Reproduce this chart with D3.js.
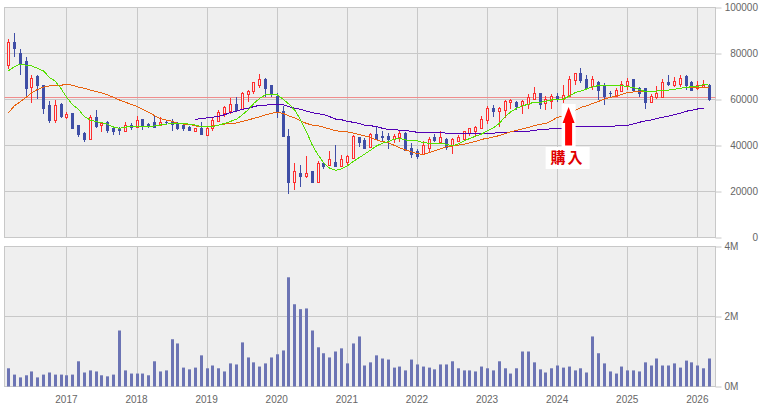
<!DOCTYPE html>
<html>
<head>
<meta charset="utf-8">
<script src="https://d3js.org/d3.v7.min.js"></script>
<style>
  html, body { margin: 0; padding: 0; background: #fff; }
  svg { display: block; }
  text { font-family: "Liberation Sans", sans-serif; font-size: 10px; fill: #666; }
</style>
</head>
<body>
<script>
  // monthly candles, March 2016 to March 2026, prices in thousands
  const opens = [74.7,84.7,80.2,76.7,65.1,69.8,65.9,57.2,50.9,58.0,
    52.0,53.8,48.5,45.4,42.7,52.0,48.5,50.1,47.5,46.9,
    46.0,48.8,47.8,51.1,49.1,49.8,48.8,50.2,50.5,49.6,
    48.5,48.0,46.3,47.6,44.3,47.3,50.5,54.0,55.0,58.0,
    55.7,62.0,63.4,66.0,68.9,65.9,61.5,54.6,43.7,23.8,
    28.0,26.7,28.5,23.8,32.0,31.2,32.8,30.8,32.5,34.3,
    43.3,42.0,39.1,44.6,43.7,43.7,42.4,43.3,45.4,38.9,
    37.6,36.3,38.6,43.3,41.5,42.8,39.8,41.6,42.4,45.4,
    46.3,47.3,50.8,55.9,54.6,55.1,58.6,58.9,57.3,58.0,
    60.2,62.4,58.3,59.2,61.5,60.1,61.5,68.2,71.5,68.9,
    65.6,67.6,65.9,62.8,61.5,63.4,65.9,68.5,64.6,64.6,
    58.6,60.7,61.0,67.2,66.3,66.7,69.8,67.6,64.6,65.4,66.3];
  const closes = [84.9,82.0,75.7,64.7,69.2,65.9,56.0,50.8,57.5,52.4,
    53.5,47.6,44.7,42.4,52.2,48.2,49.6,46.4,45.9,46.4,
    48.5,47.8,50.9,48.5,48.6,48.0,50.1,49.8,49.1,47.6,
    47.2,46.4,47.3,44.7,47.5,50.9,54.3,56.6,57.9,55.4,
    62.7,63.5,67.2,68.8,64.9,62.0,54.6,43.8,23.8,28.5,
    26.7,28.0,23.8,32.0,30.7,33.7,30.7,33.7,35.4,43.7,
    41.5,38.9,44.9,42.4,43.3,42.4,44.1,45.4,38.0,35.9,
    35.4,39.8,42.8,42.0,43.3,39.3,42.4,43.3,45.9,47.2,
    48.0,51.5,55.9,54.6,56.3,59.2,59.6,56.9,59.3,60.9,
    62.4,58.0,60.1,61.5,60.1,61.8,68.5,71.1,68.2,64.6,
    68.5,64.1,61.5,62.4,64.1,66.7,68.0,63.7,62.4,58.5,
    61.5,62.4,67.6,66.7,68.0,69.3,66.3,64.1,65.9,66.3,60.2];
  const highs = [86.3,89.1,81.8,78.5,70.7,70.5,66.3,59.3,59.8,58.5,
    54.6,54.1,48.8,45.9,53.3,55.4,50.1,50.5,48.0,48.2,
    50.2,49.8,52.7,51.4,49.8,53.0,52.2,51.1,51.5,50.2,
    49.6,48.5,47.6,50.2,48.2,52.0,55.4,57.3,60.7,61.1,
    63.1,64.3,67.6,71.1,69.3,66.3,62.8,57.2,47.2,32.4,
    31.5,35.4,28.9,33.3,32.4,37.6,40.2,35.9,35.9,44.6,
    43.7,43.3,45.3,48.0,46.3,45.4,44.9,46.7,45.9,41.1,
    38.5,42.0,43.7,45.0,46.3,43.1,43.3,44.6,46.3,47.6,
    48.5,52.8,57.2,57.6,56.7,59.8,60.1,59.3,59.8,62.4,
    65.4,62.8,61.5,62.4,62.8,66.2,70.2,71.7,73.7,70.7,
    70.2,68.0,67.0,63.7,65.0,68.0,69.3,68.9,65.4,65.0,
    62.4,65.9,68.9,70.7,69.8,70.7,70.7,68.0,68.0,68.5,66.7];
  const lows = [73.3,78.6,70.8,60.9,58.6,60.4,53.7,49.9,49.9,52.0,
    51.4,47.2,43.8,41.5,42.5,47.6,45.9,45.6,44.7,44.7,
    46.0,46.9,47.6,46.9,47.8,47.5,48.5,49.2,46.3,46.7,
    46.4,46.3,46.0,44.6,44.1,46.4,50.4,52.4,53.7,55.4,
    55.7,59.1,62.5,65.0,61.2,61.2,52.1,43.7,19.1,20.6,
    22.0,25.9,23.7,23.7,29.8,31.1,30.7,30.7,31.5,34.1,
    39.3,38.9,38.9,42.4,42.0,38.5,40.9,41.7,37.6,34.6,
    34.1,35.9,36.7,41.5,41.1,38.0,36.3,41.5,42.0,44.1,
    44.1,47.2,49.3,52.4,48.0,51.8,56.0,55.4,53.7,55.9,
    59.8,55.9,55.4,55.9,58.9,58.3,61.2,66.3,67.0,64.1,
    64.1,59.8,57.6,60.9,60.9,63.3,64.1,63.3,61.1,55.9,
    58.5,60.2,60.7,65.9,65.4,65.4,64.1,63.7,64.1,65.0,59.3];

  const maShort = [72.5,74.3,75.3,74.9,74.6,73.5,72.4,69.6,68.0,64.7,
    60.8,57.6,55.7,52.5,51.1,50.4,49.9,49.2,48.0,47.5,
    48.0,48.2,48.2,48.2,48.2,48.5,48.9,49.3,49.5,49.5,
    49.5,49.3,48.9,48.2,48.2,48.3,48.9,49.6,50.5,51.4,
    53.3,55.4,58.3,60.5,62.0,62.3,62.0,60.1,58.0,55.4,
    51.1,46.0,40.2,35.9,32.3,30.1,29.2,29.8,31.1,33.0,
    34.7,36.3,38.0,39.8,41.0,41.7,42.7,43.0,42.4,42.2,
    42.0,41.2,41.0,41.0,41.0,40.5,39.8,40.7,42.0,43.1,
    44.1,45.0,46.4,47.7,49.6,52.5,54.7,56.2,57.2,58.0,
    58.9,58.8,59.2,59.8,60.1,60.2,61.5,63.0,63.7,64.6,
    65.6,66.0,66.2,66.2,66.2,66.0,65.6,65.2,64.4,63.4,
    63.4,63.7,64.1,64.1,64.4,64.9,65.2,65.6,65.6,66.6,66.2];
  const maMid = [54.3,57.2,59.0,60.9,63.0,64.4,65.4,65.9,66.2,66.2,
    66.6,66.2,65.3,64.9,64.1,63.5,62.8,62.0,60.9,59.8,
    58.8,57.9,57.0,55.7,54.4,53.0,51.7,51.1,50.5,49.6,
    49.3,49.2,48.5,48.2,48.3,48.5,48.9,49.3,49.6,49.8,
    50.5,51.1,51.8,52.5,53.3,54.0,54.4,54.0,52.8,52.1,
    50.7,49.6,48.9,48.6,47.9,47.2,46.4,46.2,45.9,45.4,
    44.8,44.1,43.5,42.4,41.7,41.2,40.1,39.0,38.0,37.2,
    36.5,36.0,36.9,37.7,38.6,39.5,39.8,40.2,40.5,41.2,
    41.8,42.7,43.1,43.7,44.3,45.1,46.0,46.6,47.2,47.9,
    48.6,49.2,49.6,50.8,52.3,52.8,53.7,55.2,56.6,57.3,
    58.3,59.2,60.1,60.9,61.5,62.2,63.0,63.3,63.4,63.4,
    63.4,63.7,64.0,64.1,64.4,64.9,65.2,65.3,65.3,65.4,65.3];
  // long average only starts at month 32
  const maLongStart = 32;
  const maLong = [51.4,51.7,52.0,52.3,52.7,53.4,54.3,54.9,55.7,56.2,
    56.9,57.5,57.5,57.9,58.0,57.7,56.9,56.2,55.7,55.0,
    54.3,53.8,53.5,52.5,51.5,51.2,50.5,50.1,49.6,48.8,
    48.6,48.2,47.5,47.0,47.0,46.6,46.4,46.2,45.7,45.7,
    45.7,45.7,45.7,45.3,45.3,45.3,45.3,45.3,45.3,45.3,
    45.3,45.3,45.7,45.7,45.9,46.2,46.2,46.2,46.6,46.9,
    47.0,47.3,47.5,47.5,47.9,48.2,48.3,48.3,48.3,48.3,
    48.3,48.3,48.5,48.6,48.8,49.4,50.1,50.7,51.1,51.7,
    52.3,52.8,53.4,54.0,54.9,55.3,55.9,56.2];

  // volume in millions
  const volumes = [.52,.34,.26,.32,.43,.26,.34,.40,.34,.34,
    .32,.34,.72,.40,.46,.43,.32,.29,.34,1.60,
    .46,.37,.37,.37,.32,.72,.43,.46,1.35,1.23,
    .54,.49,.54,.89,.52,.60,.52,.43,.66,.63,
    1.26,.83,.69,.57,.66,.83,.92,1.03,3.12,2.35,
    2.21,2.23,1.60,1.12,.95,.83,1.00,1.09,.66,1.23,
    1.43,.60,.69,.89,.80,.77,.54,.57,.46,.77,
    .63,.57,.54,.49,.63,.63,.72,.52,.46,.46,
    .43,.57,.52,.46,.72,.52,.37,.52,1.00,1.00,
    .69,.49,.40,.52,.60,.54,.57,.46,.52,.40,
    1.43,.95,.66,.43,.37,.57,.46,.46,.43,.69,
    .60,.80,.60,.60,.66,.54,.74,.69,.60,.52,.80];

  const priceTicks = [0, 20, 40, 60, 80, 100];
  const volumeTicks = [0, 2, 4];
  const yearTicks = [2017, 2018, 2019, 2020, 2021, 2022, 2023, 2024, 2025, 2026];
  const firstYear = 2016, firstMonth = 2; // March 2016
  const refPrice = 60.9;
  const buyMonth = 96;
  const buyLabel = "購入";

  const gridColor = "#c8c8c8";
  const plotBg = "#efefef";
  const upColor = "#ff2e2e";
  const downColor = "#3f4ea6";

  const left = 4.5, right = 715.5;

  const svg = d3.select("body").append("svg")
    .attr("width", 765)
    .attr("height", 407);

  const x = d3.scaleLinear().domain([0, opens.length - 1]).range([8.5, 709.5]);
  const px = function(i) { return Math.floor(x(i)) + 0.5; };

  const yPrice = d3.scaleLinear().domain([0, 100]).range([237.5, 7.5]);
  const yVol = d3.scaleLinear().domain([0, 4]).range([386.5, 246.5]);

  const yearIndex = function(y) { return (y - firstYear) * 12 - firstMonth; };

  drawPanel(yPrice, priceTicks);
  drawPanel(yVol, volumeTicks);

  // right axes, they also give the little tick marks
  const priceAxis = d3.axisRight(yPrice)
    .tickValues(priceTicks)
    .tickSize(6)
    .tickFormat(function(d) { return d * 1000; });

  svg.append("g")
    .attr("transform", "translate(" + right + ",0)")
    .call(priceAxis)
    .call(styleAxis)
    .selectAll("text")
      .attr("text-anchor", "end")
      .attr("x", 42.5);

  const volAxis = d3.axisRight(yVol)
    .tickValues(volumeTicks)
    .tickSize(6)
    .tickFormat(function(d) { return d + "M"; });

  svg.append("g")
    .attr("transform", "translate(" + right + ",0)")
    .call(volAxis)
    .call(styleAxis);

  const yearAxis = d3.axisBottom(x)
    .tickValues(yearTicks.map(yearIndex))
    .tickSize(0)
    .tickPadding(9)
    .tickFormat(function(d, i) { return yearTicks[i]; });

  svg.append("g")
    .attr("transform", "translate(-1,386.5)")
    .call(yearAxis)
    .call(styleAxis);

  // reference price line
  svg.append("line")
    .attr("x1", left)
    .attr("x2", right)
    .attr("y1", Math.floor(yPrice(refPrice)) + 0.5)
    .attr("y2", Math.floor(yPrice(refPrice)) + 0.5)
    .attr("stroke", "#f08c8c")
    .attr("stroke-width", 1.2);

  // volume bars
  svg.append("g").selectAll("rect")
    .data(volumes)
    .enter().append("rect")
      .attr("x", function(d, i) { return px(i) - 1.5; })
      .attr("y", function(d) { return yVol(d); })
      .attr("width", 3)
      .attr("height", function(d) { return yVol(0) - yVol(d); })
      .attr("fill", "#6c74b4");

  // candles
  const candles = svg.append("g").selectAll("g")
    .data(opens)
    .enter().append("g")
      .attr("shape-rendering", "crispEdges");

  candles.append("line")
    .attr("x1", function(d, i) { return px(i); })
    .attr("x2", function(d, i) { return px(i); })
    .attr("y1", function(d, i) { return yPrice(highs[i]); })
    .attr("y2", function(d, i) { return yPrice(lows[i]); })
    .attr("stroke", function(d, i) { return closes[i] >= d ? upColor : downColor; });

  candles.append("rect")
    .attr("x", function(d, i) { return px(i) - 1; })
    .attr("y", function(d, i) { return yPrice(Math.max(d, closes[i])); })
    .attr("width", 2)
    .attr("height", function(d, i) { return Math.abs(yPrice(d) - yPrice(closes[i])); })
    .attr("fill", function(d, i) { return closes[i] >= d ? plotBg : downColor; })
    .attr("stroke", function(d, i) { return closes[i] >= d ? upColor : downColor; });

  // moving averages
  const line = d3.line()
    .x(function(d) { return x(d.i); })
    .y(function(d) { return yPrice(d.v); });

  drawLine(maLong, maLongStart, "#5200b4", 1);
  drawLine(maMid, 0, "#e8620e", 1);
  drawLine(maShort, 0, "#55e000", 1);

  // buy marker
  const ax = x(buyMonth) - 0.7;
  const arrow = svg.append("g");

  arrow.append("rect")
    .attr("x", ax - 7).attr("y", 104)
    .attr("width", 14).attr("height", 43)
    .attr("fill", "#fff");

  arrow.append("rect")
    .attr("x", ax - 23).attr("y", 147)
    .attr("width", 44).attr("height", 22)
    .attr("fill", "#fff");

  arrow.append("path")
    .attr("d", "M" + ax + ",107 L" + (ax + 6) + ",123 L" + (ax + 3.5) + ",123 L" + (ax + 3.5) + ",145.5 L" + (ax - 3.5) + ",145.5 L" + (ax - 3.5) + ",123 L" + (ax - 6) + ",123 Z")
    .attr("fill", "#ff0000");

  arrow.append("text")
    .attr("x", ax - 1)
    .attr("y", 163)
    .attr("text-anchor", "middle")
    .style("font-family", '"Noto Sans CJK JP", sans-serif')
    .style("font-size", "15px")
    .style("font-weight", "bold")
    .style("letter-spacing", "2px")
    .style("fill", "#e00000")
    .text(buyLabel);

  function drawPanel(y, ticks) {
    const top = y.range()[1], bottom = y.range()[0];
    const panel = svg.append("g");

    panel.append("rect")
      .attr("x", left)
      .attr("y", top)
      .attr("width", right - left)
      .attr("height", bottom - top)
      .attr("fill", plotBg)
      .attr("stroke", gridColor);

    panel.selectAll(".hgrid")
      .data(ticks)
      .enter().append("line")
        .attr("class", "hgrid")
        .attr("x1", left).attr("x2", right)
        .attr("y1", function(d) { return y(d); })
        .attr("y2", function(d) { return y(d); })
        .attr("stroke", gridColor);

    panel.selectAll(".vgrid")
      .data(yearTicks)
      .enter().append("line")
        .attr("class", "vgrid")
        .attr("x1", function(d) { return px(yearIndex(d)); })
        .attr("x2", function(d) { return px(yearIndex(d)); })
        .attr("y1", top).attr("y2", bottom)
        .attr("stroke", gridColor);
  }

  function drawLine(values, start, color, w) {
    svg.append("path")
      .datum(values.map(function(v, i) { return {i: i + start, v: v}; }))
      .attr("d", line)
      .attr("fill", "none")
      .attr("stroke", color)
      .attr("stroke-width", w)
      .attr("shape-rendering", "crispEdges");
  }

  function styleAxis(g) {
    g.select(".domain").remove();
    g.selectAll(".tick line").attr("stroke", gridColor);
    g.selectAll(".tick text").attr("fill", "#666");
  }
</script>
</body>
</html>
